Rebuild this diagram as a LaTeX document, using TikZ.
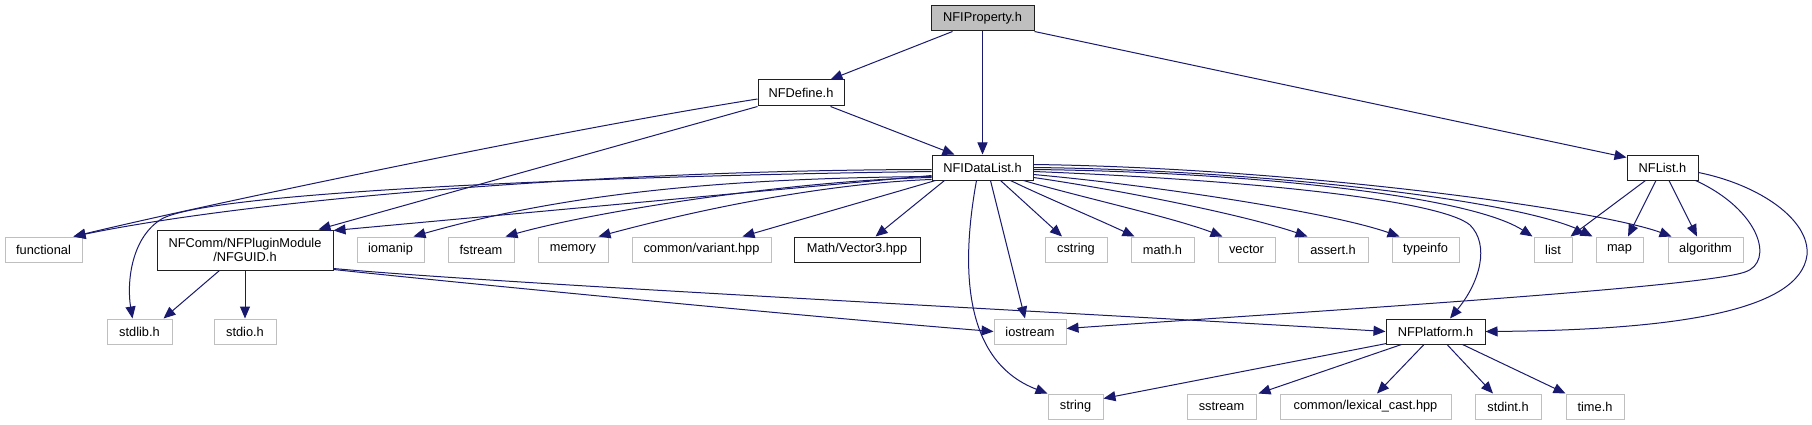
\documentclass[tikz,border=0pt]{standalone}
\usepackage{fontspec}
\setmainfont{Liberation Sans}
\usetikzlibrary{arrows.meta,calc}
\definecolor{edgecol}{HTML}{191970}
\definecolor{gborder}{HTML}{BFBFBF}
\definecolor{propfill}{HTML}{BFBFBF}
\definecolor{bborder}{HTML}{202020}
\tikzset{
  base/.style={rectangle, minimum height=25pt, inner sep=0pt, fill=white, text=black,
    font=\fontsize{12.8pt}{14.5pt}\selectfont},
  gbox/.style={base, draw=gborder, line width=1pt},
  bbox/.style={base, draw=bborder, line width=1pt},
  edge/.style={draw=edgecol, line width=1pt, -{Triangle[length=12pt,width=10pt]}}
}
\begin{document}
\begin{tikzpicture}[x=1pt,y=-1pt]
\fill[white] (0,0) rectangle (1812,425);
\useasboundingbox (0,0) rectangle (1812,425);
% nodes
\node[bbox, fill=propfill, minimum width=103pt] (prop) at (982.5,18.5) {NFIProperty.h};
\node[bbox, minimum width=86pt, minimum height=26pt] (def) at (801,93) {NFDefine.h};
\node[bbox, minimum width=101pt] (dl) at (982.5,167.5) {NFIDataList.h};
\node[bbox, minimum width=71pt] (nflist) at (1662.5,167.5) {NFList.h};
\node[gbox, minimum width=77pt] (functional) at (43.5,249.5) {functional};
\node[bbox, minimum width=176pt, minimum height=40pt, align=center] (guid) at (245,250) {NFComm/NFPluginModule\\/NFGUID.h};
\node[gbox, minimum width=67pt] (iomanip) at (390.5,249.5) {iomanip};
\node[gbox, minimum width=66pt] (fstream) at (481,249.5) {fstream};
\node[gbox, minimum width=70pt] (memory) at (573,249.5) {memory};
\node[gbox, minimum width=139pt] (variant) at (701.5,249.5) {common/variant.hpp};
\node[bbox, minimum width=126pt] (vec) at (857,249.5) {Math/Vector3.hpp};
\node[gbox, minimum width=62pt] (cstring) at (1076,249.5) {cstring};
\node[gbox, minimum width=63pt] (mathh) at (1162.5,249.5) {math.h};
\node[gbox, minimum width=57pt] (vector) at (1246.5,249.5) {vector};
\node[gbox, minimum width=70pt] (assert) at (1333,249.5) {assert.h};
\node[gbox, minimum width=67pt] (typeinfo) at (1425.5,249.5) {typeinfo};
\node[gbox, minimum width=38pt] (list) at (1553,249.5) {list};
\node[gbox, minimum width=47pt] (map) at (1619.5,249.5) {map};
\node[gbox, minimum width=75pt] (algorithm) at (1705.5,249.5) {algorithm};
\node[gbox, minimum width=65pt] (stdlib) at (139.5,331.5) {stdlib.h};
\node[gbox, minimum width=62pt] (stdio) at (245,331.5) {stdio.h};
\node[gbox, minimum width=72pt] (iostream) at (1030,331.5) {iostream};
\node[bbox, minimum width=99pt] (plat) at (1435.5,331.5) {NFPlatform.h};
\node[gbox, minimum width=55pt] (string) at (1075.5,406.5) {string};
\node[gbox, minimum width=69pt] (sstream) at (1221.5,406.5) {sstream};
\node[gbox, minimum width=171pt] (lexical) at (1365.5,406.5) {common/lexical\_cast.hpp};
\node[gbox, minimum width=66pt] (stdint) at (1508,406.5) {stdint.h};
\node[gbox, minimum width=58pt] (timeh) at (1595,406.5) {time.h};
% edges from NFIProperty
\draw[edge] ($(prop.south west)+(22,0)$) -- ($(def.north east)+(-14,0)$);
\draw[edge] (prop.south) -- (dl.north);
\draw[edge] (prop.south east) -- ($(nflist.north west)+(0,3)$);
% edges from NFDefine
\draw[edge] ($(def.south east)+(-14,0)$) -- ($(dl.north west)+(23,0)$);
\draw[edge] ($(def.west)+(0,6)$) .. controls (560,130) and (200,206) .. ($(functional.north east)+(-9,0)$);
\draw[edge] (def.south west) -- ($(guid.north east)+(-15,0)$);
% edges from NFIDataList
\draw[edge] ($(dl.west)+(0,2)$) .. controls (600,170) and (250,200) .. ($(functional.north east)+(-9,0)$);
\draw[edge] ($(dl.west)+(0,4)$) .. controls (600,176) and (200,192) .. (160,220) .. controls (130,240) and (127,285) .. ($(stdlib.north)+(-7,0)$);
\draw[edge] ($(dl.west)+(0,8)$) -- ($(guid.north east)+(0,1)$);
\draw[edge] ($(dl.west)+(0,9)$) .. controls (760,178) and (583,188) .. ($(iomanip.north east)+(-11,0)$);
\draw[edge] ($(dl.south west)+(0,-3)$) .. controls (800,180) and (600,210) .. ($(fstream.north east)+(-9,0)$);
\draw[edge] ($(dl.south west)+(0,-1)$) .. controls (860,182) and (746,197) .. ($(memory.north east)+(-10,0)$);
\draw[edge] ($(dl.south west)+(4,0)$) -- ($(variant.north east)+(-29,0)$);
\draw[edge] ($(dl.south west)+(13,0)$) -- ($(vec.north east)+(-45,0)$);
\draw[edge] ($(dl.south)+(-6,0)$) .. controls (962,260) and (960,360) .. (string.north west);
\draw[edge] ($(dl.south)+(8,0)$) -- ($(iostream.north)+(-5,0)$);
\draw[edge] ($(dl.south)+(18,0)$) -- ($(cstring.north)+(-14,0)$);
\draw[edge] ($(dl.south)+(28,0)$) .. controls (1040,195) and (1095,218) .. ($(mathh.north west)+(4,0)$);
\draw[edge] ($(dl.south east)+(-10,0)$) .. controls (1080,197) and (1175,218) .. ($(vector.north west)+(5,0)$);
\draw[edge] ($(dl.east)+(0,10)$) .. controls (1120,190) and (1245,215) .. ($(assert.north west)+(10,0)$);
\draw[edge] ($(dl.east)+(0,7)$) .. controls (1150,185) and (1330,212) .. ($(typeinfo.north west)+(8,0)$);
\draw[edge] ($(dl.east)+(0,4)$) .. controls (1250,180) and (1440,200) .. (1470,225) .. controls (1490,245) and (1480,282) .. ($(plat.north)+(14.5,0)$);
\draw[edge] ($(dl.east)+(0,2)$) .. controls (1250,172) and (1470,196) .. ($(list.north west)+(-1,0)$);
\draw[edge] (dl.east) .. controls (1260,170) and (1520,200) .. ($(map.north west)+(-3,0)$);
\draw[edge] ($(dl.east)+(0,-3)$) .. controls (1300,168) and (1600,210) .. ($(algorithm.north west)+(4,0)$);
% edges from NFGUID
\draw[edge] ($(guid.south west)+(63,0)$) -- ($(stdlib.north east)+(-9,0)$);
\draw[edge] (guid.south) -- (stdio.north);
\draw[edge] ($(guid.south east)+(0,-1)$) .. controls (450,282) and (800,316) .. (iostream.west);
\draw[edge] ($(guid.south east)+(0,-2)$) .. controls (500,284) and (1100,314) .. (plat.west);
% edges from NFList
\draw[edge] ($(nflist.south west)+(19,0)$) -- ($(list.north east)+(-2,0)$);
\draw[edge] ($(nflist.south)+(-6.5,0)$) -- ($(map.north)+(8.5,0)$);
\draw[edge] ($(nflist.south)+(6.5,0)$) -- ($(algorithm.north)+(-8.5,0)$);
\draw[edge] ($(nflist.south east)+(-3,0)$) .. controls (1760,210) and (1775,262) .. (1745,272) .. controls (1700,288) and (1300,312) .. ($(iostream.east)+(0,-3)$);
\draw[edge] ($(nflist.east)+(0,5)$) .. controls (1760,185) and (1810,220) .. (1807,255) .. controls (1800,310) and (1680,330) .. (plat.east);
% edges from NFPlatform
\draw[edge] ($(plat.south west)+(1,-1)$) -- ($(string.east)+(0,-8)$);
\draw[edge] ($(plat.south west)+(16,0)$) -- ($(sstream.north east)+(2,0)$);
\draw[edge] ($(plat.south)+(-11.5,0)$) -- ($(lexical.north)+(11.5,0)$);
\draw[edge] ($(plat.south)+(11.5,0)$) -- ($(stdint.north)+(-15,0)$);
\draw[edge] ($(plat.south east)+(-23,0)$) -- (timeh.north west);
\end{tikzpicture}
\end{document}
